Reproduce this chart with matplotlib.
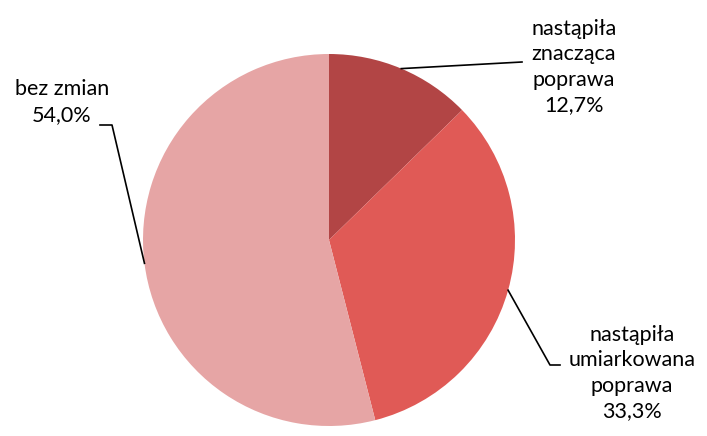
import numpy as np
import matplotlib
matplotlib.use("Agg")
import matplotlib.pyplot as plt

plt.rcParams['font.family'] = ['Lato', 'DejaVu Sans']

labels = ['nastąpiła\nznacząca\npoprawa', 'nastąpiła\numiarkowana\npoprawa', 'bez zmian']
values = [12.7, 33.3, 54.0]
colors = ['#B24545', '#E05A56', '#E6A5A5']

W, H = 707, 436
fig = plt.figure(figsize=(W / 100, H / 100), dpi=100)
ax = fig.add_axes([0, 0, 1, 1])

cx, cy, r = 329, H - 240, 186
wedges, _ = ax.pie(values, colors=colors, startangle=90, counterclock=False,
                   radius=r, center=(cx, cy), frame=True)
ax.set_xlim(0, W)
ax.set_ylim(0, H)
ax.axis('off')

def pt(w):
    ang = np.deg2rad((w.theta1 + w.theta2) / 2)
    return cx + r * np.cos(ang), cy + r * np.sin(ang)

fs = 15.5
ls = 1.33
txt = [f"{l}\n{str(v).replace('.', ',')}%" for l, v in zip(labels, values)]

# slice 1 label
x0, y0 = pt(wedges[0])
ax.plot([x0, 522], [y0, H - 62], color='black', lw=1.2)
ax.text(574, H - 67, txt[0], ha='center', va='center', fontsize=fs, linespacing=ls)

# slice 2 label
x0, y0 = pt(wedges[1])
ax.plot([x0, 550, 560], [y0, H - 365, H - 365], color='black', lw=1.2)
ax.text(632, H - 373, txt[1], ha='center', va='center', fontsize=fs, linespacing=ls)

# slice 3 label
x0, y0 = pt(wedges[2])
ax.plot([x0, 112, 100], [y0, H - 125, H - 125], color='black', lw=1.2)
ax.text(62, H - 102, txt[2], ha='center', va='center', fontsize=fs, linespacing=ls)

fig.savefig('out.png', dpi=100)
